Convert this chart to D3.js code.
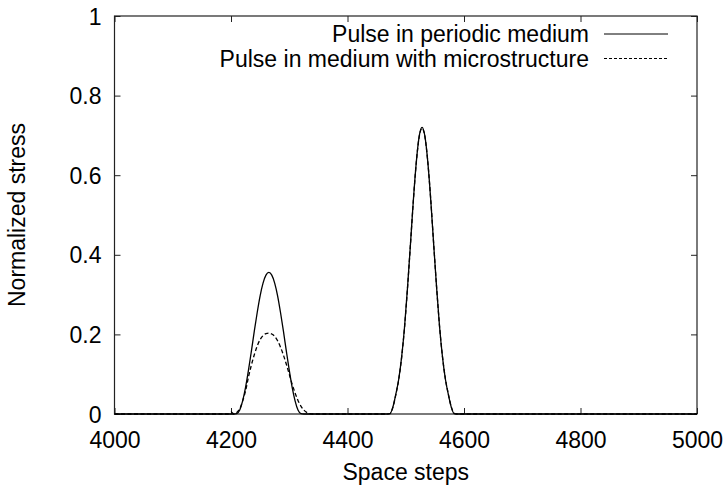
<!DOCTYPE html>
<html>
<head>
<meta charset="utf-8">
<script src="https://cdn.jsdelivr.net/npm/d3@7"></script>
<style>
body { margin: 0; background: #fff; }
text { font-family: "Liberation Sans", Arial, sans-serif; fill: #000; }
</style>
</head>
<body>
<svg id="chart"></svg>
<script>
// space steps (x) shared by both curves
var steps = [4000,
  4195,4200,4205,4210,4215,4220,4225,4230,4235,4240,4245,4250,4255,4260,4265,
  4270,4275,4280,4285,4290,4295,4300,4305,4310,4315,4320,4325,4330,4335,4340,
  4468,4473,4478,4483,4488,4493,4498,4503,4508,4513,4518,4523,4528,
  4533,4538,4543,4548,4553,4558,4563,4568,4573,4578,4583,4588,
  5000];

// pulse in periodic medium
var periodic = [0,
  0,0,0,0.001,0.010,0.033,0.067,0.110,0.158,0.208,0.255,0.297,0.329,0.349,0.356,
  0.349,0.329,0.297,0.255,0.208,0.158,0.110,0.067,0.033,0.010,0.001,0,0,0,0,
  0,0.001,0.018,0.050,0.088,0.144,0.220,0.317,0.425,0.536,0.631,0.697,0.720,
  0.697,0.631,0.536,0.425,0.317,0.220,0.144,0.088,0.050,0.018,0.001,0,
  0];

// pulse in medium with microstructure
var micro = [0,
  0,0.005,0,0.004,0.013,0.033,0.058,0.093,0.123,0.149,0.171,0.187,0.197,0.202,0.203,
  0.201,0.195,0.184,0.168,0.148,0.125,0.100,0.075,0.053,0.034,0.020,0.010,0.004,0.001,0,
  0,0.001,0.017,0.049,0.087,0.143,0.219,0.316,0.424,0.535,0.630,0.696,0.718,
  0.696,0.631,0.537,0.426,0.318,0.221,0.145,0.089,0.051,0.019,0.002,0,
  0];

var xTicks = [4000, 4200, 4400, 4600, 4800, 5000];
var yTicks = [0, 0.2, 0.4, 0.6, 0.8, 1];
var legendNames = ["Pulse in periodic medium", "Pulse in medium with microstructure"];

var W = 727, H = 489;
var pLeft = 114.5, pRight = 697, pTop = 16, pBottom = 414;

var svg = d3.select("#chart").attr("width", W).attr("height", H);

var x = d3.scaleLinear().domain([4000, 5000]).range([pLeft, pRight]);
var y = d3.scaleLinear().domain([0, 1]).range([pBottom, pTop]);

var fs = "23px";

// axes with inward ticks (mirrored like gnuplot)
var xAxis = svg.append("g").attr("transform", "translate(0," + pBottom + ")")
  .call(d3.axisBottom(x).tickValues(xTicks).tickSize(-6).tickFormat(d3.format("d")));
var xTop = svg.append("g").attr("transform", "translate(0," + pTop + ")")
  .call(d3.axisTop(x).tickValues(xTicks).tickSize(-6).tickFormat(""));
var yAxis = svg.append("g").attr("transform", "translate(" + pLeft + ",0)")
  .call(d3.axisLeft(y).tickValues(yTicks).tickSize(-6).tickFormat(function(d){ return "" + (+d.toFixed(1)); }));
var yRight = svg.append("g").attr("transform", "translate(" + pRight + ",0)")
  .call(d3.axisRight(y).tickValues(yTicks).tickSize(-6).tickFormat(""));

[xAxis, xTop, yAxis, yRight].forEach(function(g){
  g.select(".domain").remove();
  g.selectAll("line").attr("stroke", "#222").attr("stroke-width", 1);
  g.selectAll("text").attr("font-size", fs).attr("font-family", "Liberation Sans, Arial, sans-serif").attr("fill", "#000");
});
xAxis.selectAll("text").attr("y", 18).attr("dy", "0.71em");
yAxis.selectAll("text").attr("x", -13).attr("dy", "0.35em");

// border
svg.append("rect")
  .attr("x", pLeft).attr("y", pTop)
  .attr("width", pRight - pLeft).attr("height", pBottom - pTop)
  .attr("fill", "none").attr("stroke", "#222").attr("stroke-width", 1.2);

var line = d3.line()
  .x(function(d){ return x(d[0]); })
  .y(function(d){ return y(d[1]); })
  .curve(d3.curveMonotoneX);

var periodicPts = steps.map(function(s, i){ return [s, periodic[i]]; });
var microPts = steps.map(function(s, i){ return [s, micro[i]]; });

svg.append("path").datum(periodicPts)
  .attr("d", line).attr("fill", "none").attr("stroke", "#000").attr("stroke-width", 1.3);
svg.append("path").datum(microPts)
  .attr("d", line).attr("fill", "none").attr("stroke", "#000").attr("stroke-width", 1.3)
  .attr("stroke-dasharray", "4,2.5");

// legend
var legend = svg.append("g");
legendNames.forEach(function(name, i){
  var ly = 34 + i * 24.5;
  legend.append("text")
    .attr("x", 589).attr("y", ly).attr("dy", "0.35em")
    .attr("text-anchor", "end").attr("font-size", fs)
    .text(name);
  legend.append("line")
    .attr("x1", 604).attr("x2", 668).attr("y1", ly).attr("y2", ly)
    .attr("stroke", "#000").attr("stroke-width", 1)
    .attr("stroke-dasharray", i == 1 ? "3,2" : null);
});

// axis titles
svg.append("text")
  .attr("x", (pLeft + pRight) / 2).attr("y", 480)
  .attr("text-anchor", "middle").attr("font-size", fs)
  .text("Space steps");
svg.append("text")
  .attr("transform", "translate(25," + ((pTop + pBottom) / 2) + ") rotate(-90)")
  .attr("text-anchor", "middle").attr("font-size", fs)
  .text("Normalized stress");
</script>
</body>
</html>
